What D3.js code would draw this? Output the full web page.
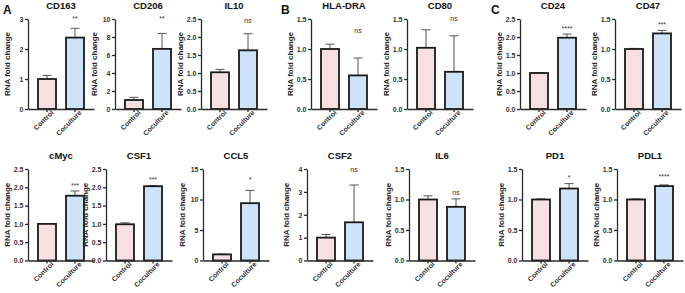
<!DOCTYPE html>
<html>
<head>
<meta charset="utf-8">
<script src="https://cdn.jsdelivr.net/npm/d3@7"></script>
<style>
  body { margin: 0; background: #fff; }
  svg { font-family: "Liberation Sans", Arial, sans-serif; }
  .axis path, .axis line { stroke: #2a2a2a; stroke-width: 1.3; }
  .axis text { fill: #333; font-size: 7px; font-weight: bold; }
</style>
</head>
<body>
<div id="chart"></div>
<script>
const groups = ['Control', 'Coculture'];
const genes = ['CD163', 'CD206', 'IL10', 'HLA-DRA', 'CD80', 'CD24', 'CD47',
               'cMyc', 'CSF1', 'CCL5', 'CSF2', 'IL6', 'PD1', 'PDL1'];
const controlMean = [1.0, 1.0, 1.02, 1.0, 1.02, 1.0, 1.0, 1.0, 0.99, 1.0, 1.0, 1.0, 1.0, 1.0];
const controlErr = [0.12, 0.3, 0.08, 0.08, 0.3, 0.01, 0.01, 0.01, 0.04, 0.05, 0.14, 0.06, 0.01, 0.01];
const cocultureMean = [2.38, 6.68, 1.63, 0.56, 0.62, 1.98, 1.26, 1.77, 2.03, 9.4, 1.67, 0.88, 1.18, 1.22];
const cocultureErr = [0.31, 1.72, 0.46, 0.29, 0.6, 0.1, 0.05, 0.13, 0.02, 2.1, 1.63, 0.13, 0.08, 0.02];
const yMax = [3, 10, 2.5, 1.5, 1.5, 2.5, 1.5, 2.5, 2.5, 15, 4, 1.5, 1.5, 1.5];
const yStep = [1, 2, 0.5, 0.5, 0.5, 0.5, 0.5, 0.5, 0.5, 5, 1, 0.5, 0.5, 0.5];
const sigLabels = ['**', '**', 'ns', 'ns', 'ns', '****', '***', '***', '***', '*', 'ns', 'ns', '*', '****'];
const sigAt = [2.93, 9.78, 2.39, 1.27, 1.47, 2.17, 1.36, 1.99, 2.14, 12.9, 3.86, 1.07, 1.32, 1.34];
const panelLetters = ['A', 'B', 'C'];

// layout
const W = 685, H = 293;
const panelX = [28, 115, 201, 311, 407, 520, 615, 28, 106, 203, 307, 409, 522, 617];
const rowTop = [19, 169];
const rowBottom = [109, 260.5];
const titleY = [9, 158.5];
const letterX = [3, 281, 491];
const plotW = 66;
const fills = { Control: '#f7e0e3', Coculture: '#cde3f7' };

const svg = d3.select('#chart').append('svg')
    .attr('width', W)
    .attr('height', H);

panelLetters.forEach((l, i) => {
    svg.append('text')
        .attr('x', letterX[i])
        .attr('y', 13.5)
        .style('font-size', '12px')
        .style('font-weight', 'bold')
        .attr('fill', '#111')
        .text(l);
});

genes.forEach((gene, i) => {
    const row = i < 7 ? 0 : 1;
    const x0 = panelX[i];
    const means = [controlMean[i], cocultureMean[i]];
    const errs = [controlErr[i], cocultureErr[i]];

    const x = d3.scaleBand()
        .domain(groups)
        .range([x0, x0 + plotW])
        .paddingInner(0.357)
        .paddingOuter(0.357);

    const y = d3.scaleLinear()
        .domain([0, yMax[i]])
        .range([rowBottom[row], rowTop[row]]);

    const ticks = d3.range(0, yMax[i] + yStep[i] / 2, yStep[i]);
    const fmt = yStep[i] < 1 ? d3.format('.1f') : d3.format('d');

    const g = svg.append('g');

    g.append('g')
        .attr('class', 'axis')
        .attr('transform', `translate(${x0},0)`)
        .call(d3.axisLeft(y).tickValues(ticks).tickFormat(fmt)
            .tickSize(3).tickSizeOuter(0).tickPadding(1.5));

    // error bars, upper half only
    g.selectAll('.err')
        .data(groups)
        .enter()
        .append('path')
        .attr('fill', 'none')
        .attr('stroke', '#555')
        .attr('stroke-width', 1)
        .attr('d', (d, k) => {
            const cx = x(d) + x.bandwidth() / 2;
            const top = y(means[k] + errs[k]);
            return `M${cx},${y(means[k])}V${top}M${cx - 4.5},${top}H${cx + 4.5}`;
        });

    g.selectAll('.bar')
        .data(groups)
        .enter()
        .append('rect')
        .attr('x', d => x(d))
        .attr('width', x.bandwidth())
        .attr('y', (d, k) => y(means[k]))
        .attr('height', (d, k) => y(0) - y(means[k]))
        .attr('fill', d => fills[d])
        .attr('stroke', '#1a1a1a')
        .attr('stroke-width', 1.8);

    const xa = g.append('g')
        .attr('class', 'axis')
        .attr('transform', `translate(0,${rowBottom[row]})`)
        .call(d3.axisBottom(x).tickSize(3).tickSizeOuter(0).tickPadding(2));

    xa.selectAll('text')
        .style('text-anchor', 'end')
        .attr('dx', '0.3em')
        .attr('dy', '0.55em')
        .attr('transform', 'rotate(-45)')
        .attr('x', 0)
        .attr('y', 4);

    g.append('text')
        .attr('x', x0 + 33)
        .attr('y', titleY[row])
        .attr('text-anchor', 'middle')
        .style('font-size', '9.5px')
        .style('font-weight', 'bold')
        .attr('fill', '#111')
        .text(gene);

    g.append('text')
        .attr('transform', `translate(${x0 - 18.5},${(rowTop[row] + rowBottom[row]) / 2}) rotate(-90)`)
        .attr('text-anchor', 'middle')
        .style('font-size', '8px')
        .style('font-weight', 'bold')
        .attr('fill', '#222')
        .text('RNA fold change');

    g.append('text')
        .attr('x', x('Coculture') + x.bandwidth() / 2)
        .attr('y', y(sigAt[i]))
        .attr('text-anchor', 'middle')
        .style('font-size', '7px')
        .attr('fill', '#333')
        .text(sigLabels[i]);
});
</script>
</body>
</html>
